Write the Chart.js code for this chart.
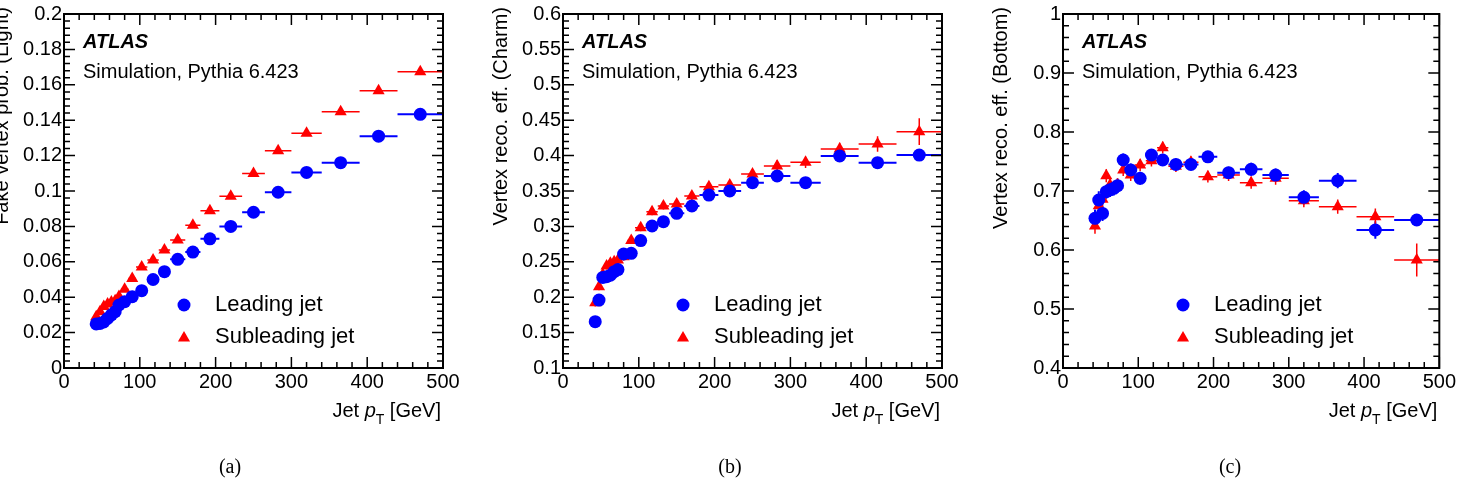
<!DOCTYPE html>
<html>
<head>
<meta charset="utf-8">
<script src="https://cdn.jsdelivr.net/npm/chart.js@4/dist/chart.umd.min.js"></script>
<style>
  body { margin: 0; background: #fff; width: 1458px; height: 483px; overflow: hidden; position: relative; }
  canvas { position: absolute; top: 0; }
  .cap { position: absolute; top: 455px; width: 60px; text-align: center;
         font-family: "Liberation Serif", "Times New Roman", serif; font-size: 20px; color: #000; }
</style>
</head>
<body>
<canvas id="chartA" width="500" height="483" style="left:0"></canvas>
<canvas id="chartB" width="520" height="483" style="left:480px"></canvas>
<canvas id="chartC" width="478" height="483" style="left:980px"></canvas>
<div class="cap" style="left:200px">(a)</div>
<div class="cap" style="left:700px">(b)</div>
<div class="cap" style="left:1200px">(c)</div>
<script>
//jet pT bin edges [GeV], same for all panels
const binEdges = [40, 45, 50, 55, 60, 65, 70, 75, 85, 95, 110, 125, 140, 160, 180, 205, 235, 265, 300, 340, 390, 440, 500];

//(a) fake vertex probability, light jets
const lightLead = [0.0249, 0.0252, 0.026, 0.028, 0.030, 0.0318, 0.0356, 0.0375, 0.0403, 0.0437, 0.050, 0.0544, 0.0614, 0.0655, 0.073, 0.080, 0.088, 0.0993, 0.1105, 0.116, 0.131, 0.1433];
const lightLeadErr = [0.0006, 0.0006, 0.0006, 0.0006, 0.0006, 0.0006, 0.0006, 0.0006, 0.0006, 0.0006, 0.0007, 0.0007, 0.0007, 0.0008, 0.0008, 0.0009, 0.001, 0.001, 0.0011, 0.0012, 0.0013, 0.0014];
const lightSub = [0.029, 0.0318, 0.0347, 0.0361, 0.0373, 0.038, 0.0404, 0.0445, 0.0505, 0.0571, 0.061, 0.0667, 0.0723, 0.0806, 0.0888, 0.097, 0.1099, 0.1228, 0.1326, 0.1448, 0.1567, 0.1674];
const lightSubErr = [0.0007, 0.0007, 0.0007, 0.0007, 0.0007, 0.0007, 0.0007, 0.0007, 0.0007, 0.0008, 0.0008, 0.0008, 0.0009, 0.0009, 0.001, 0.001, 0.0011, 0.0012, 0.0013, 0.0014, 0.0016, 0.0018];

//(b) vertex reco efficiency, charm jets
const charmLead = [0.1654, 0.196, 0.228, 0.229, 0.231, 0.236, 0.239, 0.261, 0.262, 0.280, 0.3006, 0.3067, 0.3185, 0.3288, 0.3443, 0.350, 0.3617, 0.3712, 0.3617, 0.3994, 0.390, 0.4008];
const charmLeadErr = [0.004, 0.004, 0.004, 0.004, 0.004, 0.004, 0.004, 0.004, 0.004, 0.004, 0.004, 0.004, 0.004, 0.004, 0.005, 0.005, 0.005, 0.006, 0.006, 0.007, 0.007, 0.008];
const charmSub = [0.192, 0.2148, 0.232, 0.244, 0.248, 0.250, 0.2525, 0.257, 0.280, 0.298, 0.3208, 0.3288, 0.3316, 0.343, 0.356, 0.3585, 0.374, 0.3853, 0.3905, 0.4093, 0.4164, 0.4338];
const charmSubErr = [0.005, 0.005, 0.005, 0.005, 0.005, 0.005, 0.005, 0.005, 0.005, 0.005, 0.005, 0.005, 0.005, 0.006, 0.006, 0.006, 0.007, 0.008, 0.008, 0.009, 0.011, 0.019];

//(c) vertex reco efficiency, bottom jets
const bottomLead = [0.6537, 0.6847, 0.662, 0.6988, 0.702, 0.7045, 0.709, 0.7525, 0.7356, 0.7215, 0.761, 0.7525, 0.745, 0.745, 0.758, 0.731, 0.7367, 0.727, 0.6893, 0.7175, 0.6339, 0.6508];
const bottomLeadErr = [0.015, 0.015, 0.013, 0.012, 0.012, 0.012, 0.012, 0.011, 0.011, 0.011, 0.01, 0.01, 0.01, 0.01, 0.01, 0.01, 0.011, 0.011, 0.012, 0.013, 0.015, 0.01];
const bottomSub = [0.6407, 0.675, 0.686, 0.726, 0.71, 0.706, 0.71, 0.7356, 0.727, 0.744, 0.7514, 0.7734, 0.742, 0.7486, 0.7243, 0.727, 0.714, 0.7215, 0.6836, 0.6734, 0.6565, 0.583];
const bottomSubErr = [0.013, 0.013, 0.012, 0.011, 0.011, 0.011, 0.011, 0.01, 0.01, 0.01, 0.01, 0.01, 0.01, 0.01, 0.01, 0.01, 0.01, 0.011, 0.011, 0.012, 0.014, 0.028];

const FONT = '"Liberation Sans", Arial, Helvetica, sans-serif';
const BLUE = 'rgb(0, 0, 255)', RED = 'rgb(255, 0, 0)';

//turn value + error arrays into points carrying their bin edges
function makePoints(vals, errs) {
    return vals.map((v, i) => ({
        x: (binEdges[i] + binEdges[i + 1]) / 2,
        y: v,
        xLo: binEdges[i],
        xHi: binEdges[i + 1],
        e: errs[i]
    }));
}

//error bars drawn under the markers
const errorBars = {
    id: 'errorBars',
    beforeDatasetsDraw(chart) {
        const { ctx, scales: { x, y } } = chart;
        ctx.save();
        chart.data.datasets.forEach(ds => {
            ctx.strokeStyle = ds.backgroundColor;
            ctx.lineWidth = ds.barWidth;
            ds.data.forEach(p => {
                const py = y.getPixelForValue(p.y);
                const px = x.getPixelForValue(p.x);
                ctx.beginPath();
                ctx.moveTo(x.getPixelForValue(p.xLo), py);
                ctx.lineTo(x.getPixelForValue(p.xHi), py);
                ctx.moveTo(px, y.getPixelForValue(p.y - p.e));
                ctx.lineTo(px, y.getPixelForValue(p.y + p.e));
                ctx.stroke();
            });
        });
        ctx.restore();
    }
};

//ROOT style frame with inward ticks on all four sides
const frameTicks = {
    id: 'frameTicks',
    afterDraw(chart, args, opts) {
        const { ctx, chartArea: a, scales: { x, y } } = chart;
        ctx.save();
        ctx.strokeStyle = '#000';
        ctx.lineWidth = 1.5;
        ctx.beginPath();
        const nx = Math.round((x.max - x.min) / opts.xMinor);
        for (let i = 0; i <= nx; i++) {
            const px = x.getPixelForValue(x.min + i * opts.xMinor);
            const len = i % opts.xSub === 0 ? 11 : 6;
            ctx.moveTo(px, a.bottom); ctx.lineTo(px, a.bottom - len);
            ctx.moveTo(px, a.top); ctx.lineTo(px, a.top + len);
        }
        const ny = Math.round((y.max - y.min) / opts.yMinor);
        for (let i = 0; i <= ny; i++) {
            const py = y.getPixelForValue(y.min + i * opts.yMinor);
            const len = i % opts.ySub === 0 ? 11 : 6;
            ctx.moveTo(a.left, py); ctx.lineTo(a.left + len, py);
            ctx.moveTo(a.right, py); ctx.lineTo(a.right - len, py);
        }
        ctx.stroke();
        ctx.lineWidth = 2;
        ctx.strokeRect(a.left, a.top, a.right - a.left, a.bottom - a.top);
        ctx.restore();
    }
};

function triangle(ctx, cx, cy, r) {
    ctx.beginPath();
    ctx.moveTo(cx, cy - r);
    ctx.lineTo(cx + r * Math.sin(2 * Math.PI / 3), cy + r / 2);
    ctx.lineTo(cx - r * Math.sin(2 * Math.PI / 3), cy + r / 2);
    ctx.closePath();
    ctx.fill();
}

//labels, legend and axis titles
const panelText = {
    id: 'panelText',
    afterDraw(chart, args, opts) {
        const { ctx, chartArea: a } = chart;
        ctx.save();
        ctx.fillStyle = '#000';
        ctx.textBaseline = 'middle';
        ctx.textAlign = 'left';
        ctx.font = 'italic bold 20px ' + FONT;
        ctx.fillText('ATLAS', a.left + 19, 42);
        ctx.font = '20px ' + FONT;
        ctx.fillText('Simulation, Pythia 6.423', a.left + 19, 72);

        //legend
        ctx.fillStyle = BLUE;
        ctx.beginPath();
        ctx.arc(a.left + 120, 305, 6.5, 0, 2 * Math.PI);
        ctx.fill();
        ctx.fillStyle = RED;
        triangle(ctx, a.left + 120, 338, 7);
        ctx.fillStyle = '#000';
        ctx.font = '22px ' + FONT;
        ctx.fillText('Leading jet', a.left + 151, 305);
        ctx.fillText('Subleading jet', a.left + 151, 337);

        //x title: Jet pT [GeV], right aligned at the axis end
        ctx.font = '20px ' + FONT;
        const tail = ' [GeV]';
        const wTail = ctx.measureText(tail).width;
        ctx.font = '14px ' + FONT;
        const wT = ctx.measureText('T').width;
        ctx.font = 'italic 20px ' + FONT;
        const wP = ctx.measureText('p').width;
        ctx.font = '20px ' + FONT;
        const wJet = ctx.measureText('Jet ').width;
        let tx = a.right - 2 - (wJet + wP + wT + wTail);
        const ty = 411;
        ctx.fillText('Jet ', tx, ty); tx += wJet;
        ctx.font = 'italic 20px ' + FONT;
        ctx.fillText('p', tx, ty); tx += wP;
        ctx.font = '14px ' + FONT;
        ctx.fillText('T', tx, ty + 9); tx += wT;
        ctx.font = '20px ' + FONT;
        ctx.fillText(tail, tx, ty);

        //y title, rotated, reading upwards, its end near the top edge
        ctx.textBaseline = 'alphabetic';
        ctx.textAlign = 'right';
        ctx.translate(a.left - 56, 7);
        ctx.rotate(-Math.PI / 2);
        ctx.fillText(opts.yTitle, 0, 0);
        ctx.restore();
    }
};

function makeChart(id, width, left, lead, leadErr, sub, subErr, yMin, yMax, yStep, yMinor, yTitle) {
    const config = {
        type: 'scatter',
        data: {
            datasets: [{
                label: 'Leading jet',
                data: makePoints(lead, leadErr),
                backgroundColor: BLUE,
                pointStyle: 'circle',
                pointRadius: 6.5,
                pointBorderWidth: 0,
                barWidth: 2
            },
            {
                label: 'Subleading jet',
                data: makePoints(sub, subErr),
                backgroundColor: RED,
                pointStyle: 'triangle',
                pointRadius: 7,
                pointBorderWidth: 0,
                barWidth: 1.5
            }]
        },
        options: {
            responsive: false,
            animation: false,
            devicePixelRatio: 1,
            layout: { padding: { left: 0, right: width - left - 379, top: 14, bottom: 75 } },
            scales: {
                x: {
                    type: 'linear', min: 0, max: 500,
                    ticks: { stepSize: 100, color: '#000', font: { size: 20, family: FONT }, padding: 2, maxRotation: 0, autoSkip: false },
                    grid: { display: false, drawTicks: false },
                    border: { display: false },
                    afterFit: s => { s.height = 40; }
                },
                y: {
                    type: 'linear', min: yMin, max: yMax,
                    ticks: { stepSize: yStep, color: '#000', font: { size: 20, family: FONT }, padding: 2, autoSkip: false,
                             callback: v => String(+v.toFixed(3)) },
                    grid: { display: false, drawTicks: false },
                    border: { display: false },
                    afterFit: s => { s.width = left; }
                }
            },
            plugins: {
                legend: { display: false },
                tooltip: { enabled: false },
                frameTicks: { xMinor: 20, xSub: 5, yMinor: yMinor, ySub: 5 },
                panelText: { yTitle: yTitle }
            }
        },
        plugins: [errorBars, frameTicks, panelText]
    };
    return new Chart(document.getElementById(id), config);
}

makeChart('chartA', 500, 64, lightLead, lightLeadErr, lightSub, lightSubErr, 0, 0.2, 0.02, 0.004, 'Fake vertex prob. (Light)');
makeChart('chartB', 520, 83, charmLead, charmLeadErr, charmSub, charmSubErr, 0.1, 0.6, 0.05, 0.01, 'Vertex reco. eff. (Charm)');
makeChart('chartC', 478, 83, bottomLead, bottomLeadErr, bottomSub, bottomSubErr, 0.4, 1.0, 0.1, 0.02, 'Vertex reco. eff. (Bottom)');
</script>
</body>
</html>
